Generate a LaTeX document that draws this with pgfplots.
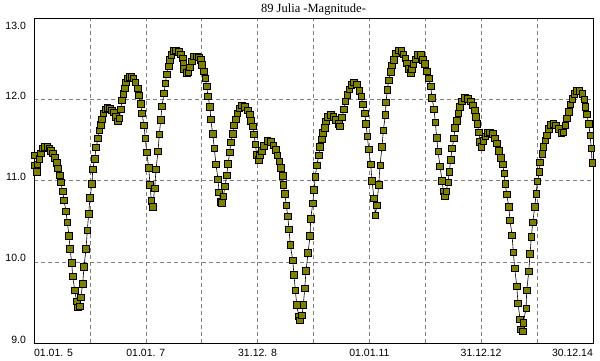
\documentclass[border=0pt]{standalone}
\usepackage{fontspec}
\setmainfont{Liberation Sans}
\newfontfamily\titlefont{Liberation Serif}
\usepackage{pgfplots}
\pgfplotsset{compat=1.18}
\definecolor{olivem}{RGB}{128,128,0}
\definecolor{gridg}{RGB}{128,128,128}
\begin{document}
\begin{tikzpicture}
\path[use as bounding box] (-34.1pt,-17pt) rectangle (565.9pt,343pt);
\begin{axis}[
  at={(0pt,0pt)}, anchor=south west,
  scale only axis, width=558.8pt, height=324.5pt,
  xmin=0, xmax=10, ymin=9, ymax=13,
  clip=false,
  axis line style={black, line width=0.8pt},
  major tick length=0pt,
  xtick={0,1,2,3,4,5,6,7,8,9,10},
  xticklabels={\rlap{01.01. 5},,01.01. 7,,31.12. 8,,01.01.11,,31.12.12,,\llap{30.12.14}},
  ytick={9,10,11,12,13},
  yticklabels={9.0,10.0,11.0,12.0,\raisebox{-10.8pt}{13.0}},
  xticklabel style={font=\fontsize{10.5}{12}\selectfont, inner sep=0pt, anchor=north, yshift=-6pt},
  yticklabel style={font=\fontsize{10.5}{12}\selectfont, inner sep=0pt, anchor=base east, xshift=-8pt},
  grid=major,
  grid style={gridg, line width=0.7pt, dash pattern=on 4pt off 3pt},
  every axis title shift=0pt,
  title={\titlefont\fontsize{12.5}{14}\selectfont 89 Julia -Magnitude-},
  title style={at={(0.5,1)}, anchor=base, yshift=6.5pt, inner sep=0pt},
]
\addplot[black, line width=0.6pt, mark=square*, mark size=3.2pt,
  mark options={fill=olivem, draw=black, line width=0.7pt, solid}] table {
x y
0.000 11.31
0.010 11.19
0.047 11.11
0.057 11.20
0.093 11.27
0.118 11.34
0.154 11.40
0.195 11.42
0.236 11.42
0.272 11.40
0.297 11.37
0.333 11.34
0.369 11.28
0.404 11.22
0.428 11.15
0.464 11.07
0.476 10.98
0.512 10.87
0.535 10.76
0.571 10.62
0.594 10.49
0.625 10.32
0.643 10.16
0.673 9.99
0.691 9.82
0.727 9.65
0.762 9.51
0.786 9.44
0.821 9.45
0.834 9.56
0.870 9.73
0.893 9.94
0.929 10.16
0.952 10.39
0.977 10.59
1.000 10.79
1.036 10.96
1.049 11.14
1.085 11.27
1.108 11.41
1.144 11.52
1.167 11.62
1.192 11.69
1.215 11.76
1.238 11.83
1.274 11.88
1.310 11.90
1.358 11.89
1.394 11.87
1.430 11.84
1.466 11.79
1.502 11.73
1.525 11.77
1.550 11.88
1.573 11.99
1.596 12.07
1.621 12.14
1.645 12.21
1.668 12.26
1.704 12.28
1.740 12.28
1.775 12.26
1.811 12.21
1.860 12.14
1.872 12.05
1.908 11.95
1.931 11.83
1.967 11.68
1.990 11.52
2.015 11.35
2.051 11.16
2.074 10.95
2.098 10.75
2.123 10.68
2.158 10.91
2.182 11.14
2.217 11.36
2.241 11.57
2.266 11.75
2.289 11.92
2.325 12.08
2.348 12.20
2.373 12.31
2.409 12.41
2.432 12.49
2.455 12.55
2.491 12.60
2.540 12.61
2.588 12.59
2.624 12.56
2.660 12.51
2.670 12.45
2.683 12.38
2.731 12.33
2.760 12.34
2.790 12.40
2.826 12.47
2.862 12.53
2.910 12.53
2.946 12.52
2.982 12.49
3.005 12.43
3.041 12.35
3.064 12.26
3.089 12.16
3.112 12.04
3.148 11.91
3.161 11.76
3.196 11.58
3.225 11.40
3.255 11.20
3.291 11.02
3.309 10.86
3.340 10.74
3.363 10.73
3.386 10.81
3.417 10.93
3.447 11.07
3.470 11.21
3.501 11.35
3.519 11.47
3.554 11.58
3.578 11.68
3.613 11.76
3.637 11.83
3.672 11.89
3.721 11.93
3.769 11.91
3.823 11.87
3.864 11.82
3.876 11.74
3.912 11.67
3.936 11.57
3.959 11.45
3.984 11.32
4.020 11.26
4.043 11.31
4.073 11.37
4.114 11.43
4.174 11.49
4.234 11.48
4.281 11.44
4.329 11.38
4.353 11.31
4.388 11.24
4.413 11.16
4.449 11.06
4.460 10.95
4.485 10.84
4.514 10.70
4.539 10.56
4.562 10.40
4.585 10.21
4.628 10.02
4.651 9.84
4.675 9.65
4.700 9.47
4.736 9.33
4.759 9.28
4.795 9.34
4.818 9.47
4.843 9.67
4.866 9.89
4.902 10.11
4.938 10.32
4.950 10.53
4.986 10.72
5.009 10.89
5.033 11.05
5.058 11.19
5.094 11.31
5.117 11.42
5.147 11.51
5.165 11.59
5.201 11.65
5.224 11.73
5.260 11.79
5.308 11.81
5.355 11.79
5.403 11.75
5.451 11.70
5.475 11.67
5.510 11.78
5.546 11.88
5.570 11.98
5.605 12.06
5.641 12.13
5.677 12.18
5.725 12.21
5.773 12.19
5.820 12.11
5.856 12.04
5.881 11.94
5.917 11.83
5.940 11.70
5.963 11.55
5.988 11.39
6.024 11.20
6.047 11.00
6.083 10.78
6.107 10.57
6.132 10.70
6.167 10.95
6.191 11.19
6.226 11.42
6.250 11.62
6.285 11.81
6.298 11.97
6.321 12.12
6.346 12.24
6.382 12.34
6.405 12.42
6.441 12.49
6.477 12.57
6.525 12.61
6.572 12.60
6.608 12.56
6.643 12.51
6.668 12.45
6.704 12.38
6.740 12.33
6.763 12.37
6.786 12.44
6.822 12.50
6.870 12.55
6.919 12.55
6.955 12.49
6.990 12.44
7.026 12.35
7.062 12.26
7.098 12.16
7.121 12.02
7.157 11.88
7.180 11.72
7.205 11.53
7.229 11.36
7.264 11.18
7.300 11.00
7.324 10.87
7.349 10.81
7.372 10.87
7.408 10.98
7.431 11.11
7.456 11.26
7.479 11.40
7.515 11.52
7.528 11.65
7.563 11.74
7.587 11.83
7.622 11.91
7.658 11.98
7.706 12.02
7.765 12.01
7.814 11.98
7.849 11.93
7.885 11.87
7.908 11.79
7.932 11.70
7.957 11.60
7.980 11.48
8.004 11.42
8.039 11.49
8.075 11.55
8.111 11.59
8.159 11.60
8.208 11.58
8.243 11.52
8.279 11.46
8.315 11.37
8.351 11.28
8.387 11.20
8.410 11.09
8.433 10.96
8.458 10.83
8.494 10.68
8.517 10.51
8.553 10.33
8.576 10.12
8.601 9.92
8.637 9.70
8.660 9.49
8.696 9.29
8.709 9.17
8.745 9.14
8.755 9.25
8.804 9.43
8.816 9.65
8.852 9.88
8.875 10.10
8.899 10.31
8.924 10.49
8.960 10.68
8.983 10.84
9.006 10.99
9.042 11.11
9.054 11.23
9.090 11.33
9.113 11.42
9.149 11.50
9.174 11.56
9.210 11.64
9.246 11.69
9.292 11.70
9.340 11.68
9.389 11.64
9.436 11.59
9.471 11.60
9.507 11.68
9.532 11.77
9.568 11.85
9.591 11.94
9.627 12.01
9.663 12.07
9.711 12.11
9.758 12.11
9.806 12.07
9.842 12.00
9.866 11.91
9.890 11.82
9.926 11.70
9.949 11.56
9.972 11.40
9.985 11.22
};
\end{axis}
\end{tikzpicture}
\end{document}
